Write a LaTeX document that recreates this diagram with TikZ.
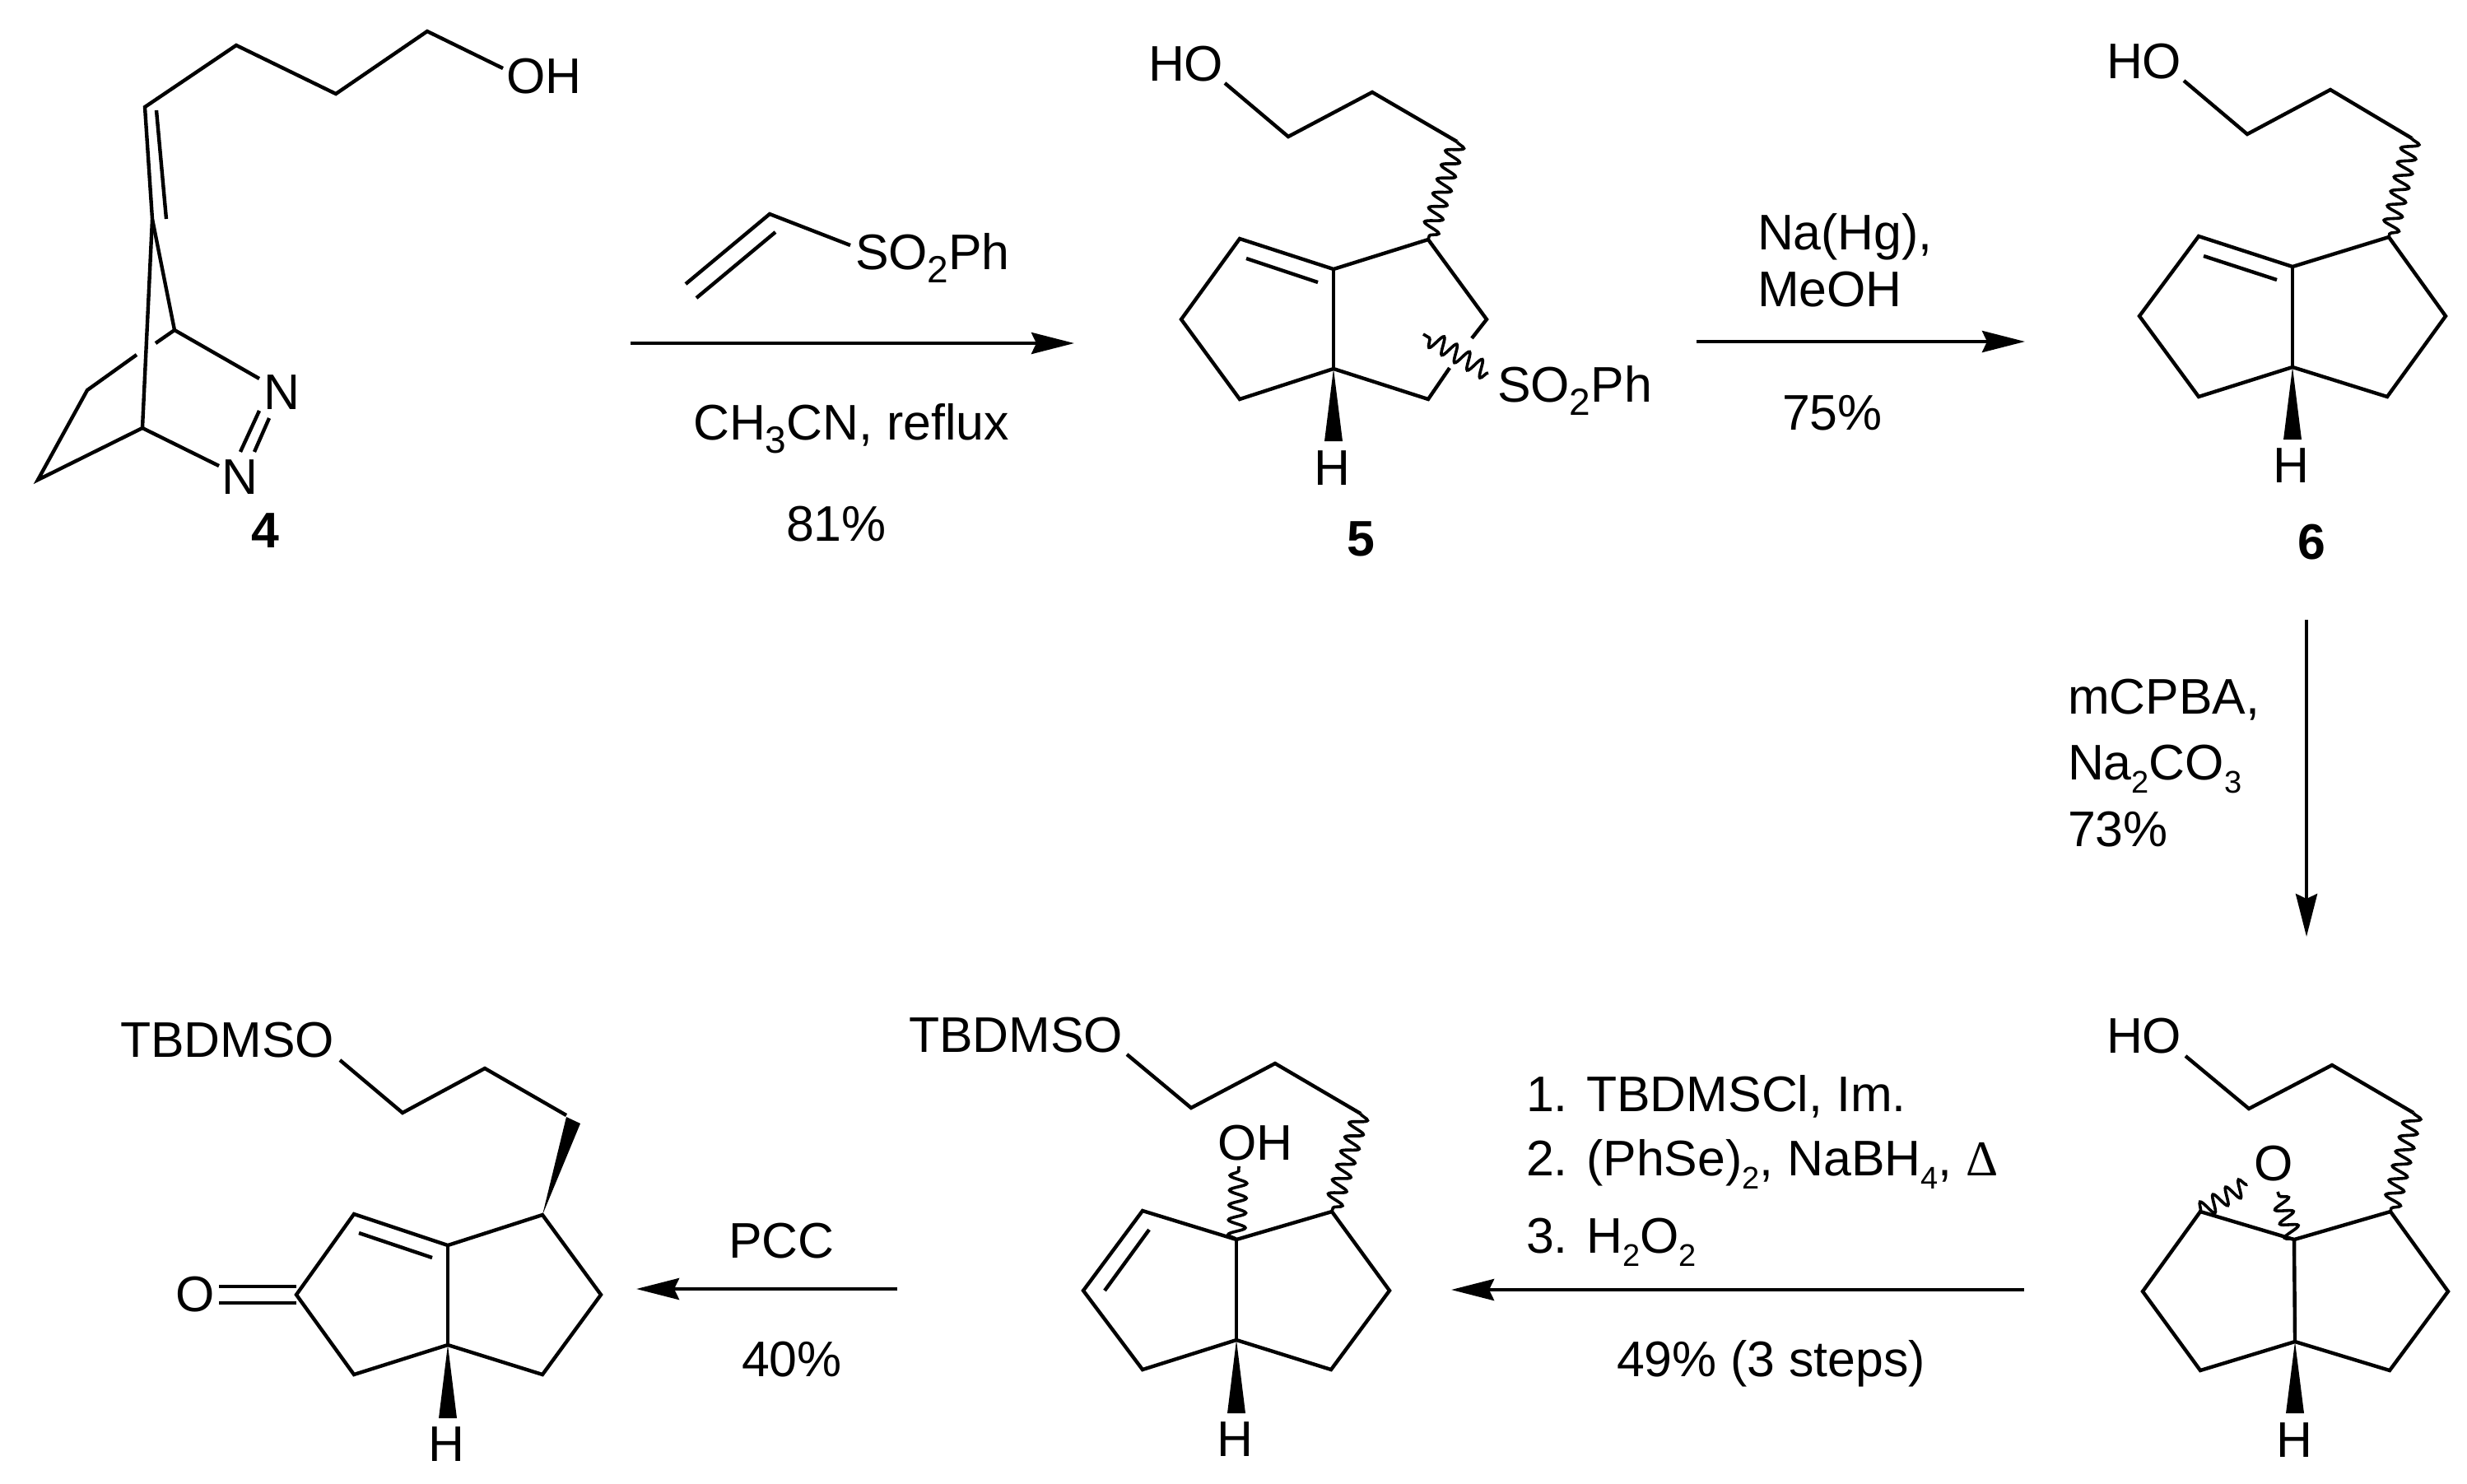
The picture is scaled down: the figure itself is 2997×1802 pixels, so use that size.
\documentclass[tikz,border=0pt]{standalone}
\usepackage{fontspec}
\setmainfont{Liberation Sans}
\newfontfamily\deltafont{Liberation Serif}
\usetikzlibrary{arrows.meta,decorations.pathmorphing}
\newcommand{\chemsub}[1]{\raisebox{-4pt}{\fontsize{11.5}{11.5}\selectfont #1}}
\newcommand{\chemsubn}[1]{\raisebox{-4pt}{\fontsize{9.5}{9.5}\selectfont #1}}
\tikzset{
  x=.25pt,y=-.25pt,
  bond/.style={line width=1.1pt,line join=miter,line cap=butt},
  wavy/.style={line width=.9pt,decorate,decoration={snake,segment length=4.5pt,amplitude=2.6pt}},
  wedgefill/.style={fill=black,draw=none},
  rxn/.style={line width=1.1pt,-{Stealth[length=13pt,width=6.5pt,inset=1.5pt]}},
  lab/.style={inner sep=0pt,outer sep=0pt,font=\fontsize{15.2}{15.2}\selectfont},
  labw/.style={lab,anchor=base west},
  labc/.style={lab,anchor=base},
  num/.style={inner sep=0pt,outer sep=0pt,anchor=base,font=\fontsize{15.2}{15.2}\selectfont\bfseries},
}
\begin{document}
\begin{tikzpicture}
\useasboundingbox (0,0) rectangle (2997,1802);
\fill[white] (0,0) rectangle (2997,1802);

% ---------- compound 4
\foreach \n/\x/\y in {a/176/130,b/287/55,c/408/114,d/519/38,oh/611/83,db1/190/134,db2/202/266,
  s/185/266,l/173/520,u/212/401,n1/315/460,n2/266/566,g1/189/417,g2/166/431,e/106/474,f/46/583,
  na/327/508,nb/309/549,nc/315/499,nd/292/549}
  \coordinate (m4\n) at (\x,\y);
\draw[bond] (m4oh)--(m4d)--(m4c)--(m4b)--(m4a)--(m4s)--(m4l);
\draw[bond] (m4db1)--(m4db2);
\draw[bond] (m4s)--(m4u)--(m4n1);
\draw[bond] (m4u)--(m4g1);
\draw[bond] (m4g2)--(m4e)--(m4f)--(m4l)--(m4n2);
\draw[bond] (m4na)--(m4nb);
\draw[bond] (m4nc)--(m4nd);
\node[labc] (m4OH) at (661,113) {OH};
\node[labc] (m4N1) at (342,497) {N};
\node[labc] (m4N2) at (291,600) {N};
\node[num] (m4num) at (322,665) {4};

% ---------- arrow 1
\coordinate (a1s) at (766,417); \coordinate (a1e) at (1305,417);
\draw[rxn] (a1s)--(a1e);
\coordinate (vA) at (833,345); \coordinate (vB) at (935,260); \coordinate (vC) at (1033,298);
\coordinate (vD) at (846,362); \coordinate (vE) at (942,282);
\draw[bond] (vA)--(vB)--(vC);
\draw[bond] (vD)--(vE);
\node[labw] (vS) at (1039,327) {SO\chemsub{2}Ph};
\node[labc] (a1t) at (1034,534) {CH\chemsub{3}CN, reflux};
\node[labc] (a1y) at (1016,657) {81\%};

% ---------- compound 5
\foreach \n/\x/\y in {o/1488/101,a/1565/166,b/1667/112,c/1770/172,r1/1735/291,r2/1620/327,r3/1506/290,
  r4/1435/388,r5/1506/485,r6/1620/448,r7/1735/485,r8/1806/388,g1/1788/411,g2/1761/447,
  d1/1514/314,d2/1601/343,w1/1808/453,w2/1729/406,wl/1609/536,wr/1631/536}
  \coordinate (m5\n) at (\x,\y);
\draw[bond] (m5o)--(m5a)--(m5b)--(m5c);
\draw[wavy] (m5c)--(m5r1);
\draw[bond] (m5g1)--(m5r8)--(m5r1)--(m5r2)--(m5r3)--(m5r4)--(m5r5)--(m5r6)--(m5r7)--(m5g2);
\draw[bond] (m5r2)--(m5r6);
\draw[bond] (m5d1)--(m5d2);
\draw[wavy] (m5w1)--(m5w2);
\fill[wedgefill] (m5r6)--(m5wl)--(m5wr)--cycle;
\node[labw] (m5HO) at (1395,98) {HO};
\node[labw] (m5S) at (1819,488) {SO\chemsub{2}Ph};
\node[labc] (m5H) at (1618,589) {H};
\node[num] (m5num) at (1653,675) {5};

% ---------- arrow 2
\coordinate (a2s) at (2061,415); \coordinate (a2e) at (2460,415);
\draw[rxn] (a2s)--(a2e);
\node[labw] (a2t1) at (2135,303) {Na(Hg),};
\node[labw] (a2t2) at (2135,372) {MeOH};
\node[labw] (a2y) at (2165,522) {75\%};

% ---------- compound 6
\foreach \n/\x/\y in {o/2653/98,a/2730/163,b/2831/109,c/2930/168,r1/2902/288,r2/2785/324,r3/2671/287,
  r4/2599/384,r5/2671/482,r6/2785/446,r7/2900/482,r8/2971/384,d1/2677/311,d2/2766/340,wl/2774/534,wr/2796/534}
  \coordinate (m6\n) at (\x,\y);
\draw[bond] (m6o)--(m6a)--(m6b)--(m6c);
\draw[wavy] (m6c)--(m6r1);
\draw[bond] (m6r1)--(m6r2)--(m6r3)--(m6r4)--(m6r5)--(m6r6)--(m6r7)--(m6r8)--cycle;
\draw[bond] (m6r2)--(m6r6);
\draw[bond] (m6d1)--(m6d2);
\fill[wedgefill] (m6r6)--(m6wl)--(m6wr)--cycle;
\node[labw] (m6HO) at (2559,95) {HO};
\node[labc] (m6H) at (2783,586) {H};
\node[num] (m6num) at (2808,679) {6};

% ---------- arrow 3
\coordinate (a3s) at (2802,753); \coordinate (a3e) at (2802,1138);
\draw[rxn] (a3s)--(a3e);
\node[labw] (a3t1) at (2512,867) {mCPBA,};
\node[labw] (a3t2) at (2512,947) {Na\chemsubn{2}CO\chemsubn{3}};
\node[labw] (a3y) at (2512,1028) {73\%};

% ---------- epoxide
\foreach \n/\x/\y in {o/2655/1283,a/2732/1347,b/2833/1294,c/2932/1352,r1/2904/1472,r2/2787/1506,r3/2673/1472,
  r4/2603/1569,r5/2673/1665,r6/2788/1630,r7/2903/1665,r8/2974/1569,e1/2730/1439,e2/2767/1448,wl/2777/1717,wr/2799/1717}
  \coordinate (m7\n) at (\x,\y);
\draw[bond] (m7o)--(m7a)--(m7b)--(m7c);
\draw[wavy] (m7c)--(m7r1);
\draw[bond] (m7r1)--(m7r2)--(m7r3)--(m7r4)--(m7r5)--(m7r6)--(m7r7)--(m7r8)--cycle;
\draw[bond] (m7r2)--(m7r6);
\draw[wavy] (m7r3)--(m7e1);
\draw[wavy] (m7r2)--(m7e2);
\fill[wedgefill] (m7r6)--(m7wl)--(m7wr)--cycle;
\node[labw] (m7HO) at (2559,1279) {HO};
\node[labc] (m7O) at (2762,1434) {O};
\node[labc] (m7H) at (2787,1770) {H};

% ---------- arrow 4
\coordinate (a4s) at (2459,1567); \coordinate (a4e) at (1763,1567);
\draw[rxn] (a4s)--(a4e);
\node[labw] (a4t1) at (1854,1350) {1. TBDMSCl, Im.};
\node[labw] (a4t2) at (1854,1428) {2. (PhSe)\chemsubn{2}, NaBH\chemsubn{4}, {\deltafont Δ}};
\node[labw] (a4t3) at (1854,1522) {3. H\chemsubn{2}O\chemsubn{2}};
\node[labw] (a4y) at (1964,1672) {49\% (3 steps)};

% ---------- allylic alcohol
\foreach \n/\x/\y in {o/1369/1281,a/1447/1346,b/1549/1292,c/1653/1353,r1/1618/1472,r2/1502/1506,r3/1388/1471,
  r4/1316/1568,r5/1388/1664,r6/1502/1628,r7/1617/1664,r8/1688/1568,d1/1396/1494,d2/1342/1568,h/1505/1417,wl/1491/1717,wr/1513/1717}
  \coordinate (m8\n) at (\x,\y);
\draw[bond] (m8o)--(m8a)--(m8b)--(m8c);
\draw[wavy] (m8c)--(m8r1);
\draw[bond] (m8r1)--(m8r2)--(m8r3)--(m8r4)--(m8r5)--(m8r6)--(m8r7)--(m8r8)--cycle;
\draw[bond] (m8r2)--(m8r6);
\draw[bond] (m8d1)--(m8d2);
\draw[wavy] (m8r2)--(m8h);
\fill[wedgefill] (m8r6)--(m8wl)--(m8wr)--cycle;
\node[labw] (m8T) at (1104,1278) {TBDMSO};
\node[labw] (m8OH) at (1479,1409) {OH};
\node[labc] (m8H) at (1500,1769) {H};

% ---------- arrow 5
\coordinate (a5s) at (1090,1566); \coordinate (a5e) at (773,1566);
\draw[rxn] (a5s)--(a5e);
\node[labw] (a5t) at (885,1528) {PCC};
\node[labw] (a5y) at (901,1672) {40\%};

% ---------- enone
\foreach \n/\x/\y in {o/413/1288,a/489/1352,b/589/1298,c/688/1355,r1/659/1476,r2/544/1513,r3/430/1475,
  r4/360/1573,r5/430/1670,r6/544/1634,r7/659/1670,r8/730/1573,d1/436/1498,d2/525/1528,
  k1/360/1563,k2/266/1563,k3/360/1583,k4/266/1583,wa/688/1357,wb/705/1365,wl/533/1723,wr/555/1723}
  \coordinate (m9\n) at (\x,\y);
\draw[bond] (m9o)--(m9a)--(m9b)--(m9c);
\fill[wedgefill] (m9r1)--(m9wa)--(m9wb)--cycle;
\draw[bond] (m9r1)--(m9r2)--(m9r3)--(m9r4)--(m9r5)--(m9r6)--(m9r7)--(m9r8)--cycle;
\draw[bond] (m9r2)--(m9r6);
\draw[bond] (m9d1)--(m9d2);
\draw[bond] (m9k1)--(m9k2);
\draw[bond] (m9k3)--(m9k4);
\fill[wedgefill] (m9r6)--(m9wl)--(m9wr)--cycle;
\node[labw] (m9T) at (146,1284) {TBDMSO};
\node[labc] (m9O) at (237,1593) {O};
\node[labc] (m9H) at (542,1775) {H};
\end{tikzpicture}
\end{document}
